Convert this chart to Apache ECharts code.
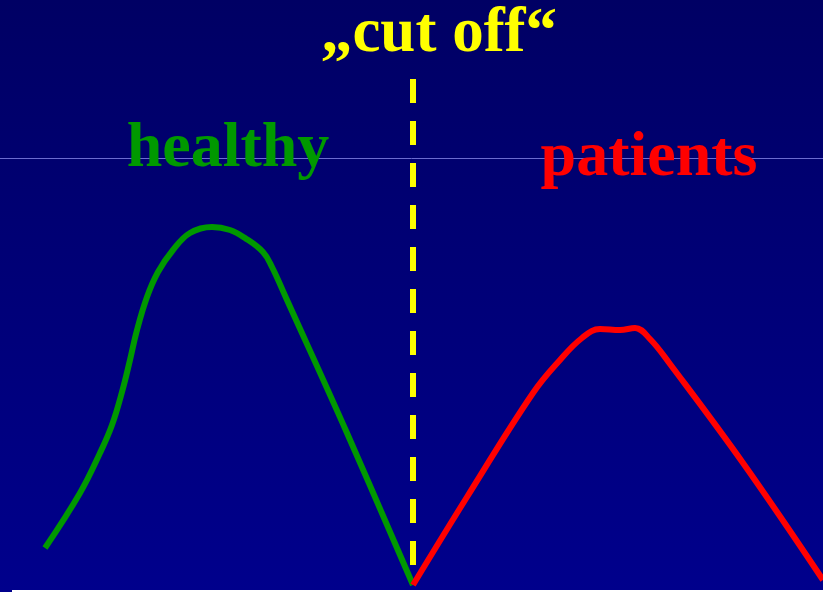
<!DOCTYPE html>
<html>
<head>
<meta charset="utf-8">
<script src="https://cdn.jsdelivr.net/npm/echarts@6/dist/echarts.min.js"></script>
<style>
html, body { margin: 0; padding: 0; }
#main { width: 823px; height: 592px; }
</style>
</head>
<body>
<div id="main"></div>
<script>
// x = test value, y = frequency
var healthy = [
	[45, 44], [80, 99], [100, 139], [112, 167], [122, 200], [130, 232], [137, 262],
	[147, 295], [158, 320], [173, 342], [190, 359], [212, 365], [230, 362], [245, 354],
	[263, 340], [272, 325], [287, 292], [347, 159], [413, 7]
];
var patients = [
	[413, 7], [467, 95], [533, 199], [560, 232], [582, 254],
	[600, 263], [620, 262], [635, 264], [650, 253], [670, 228], [743, 129],
	[823, 12]
];
var cutOff = [[413, 513], [413, 14]];
var labels = ['„cut off“', 'healthy', 'patients'];

var myChart = echarts.init(document.getElementById('main'));

option = {
	animation: false,
	backgroundColor: {
		type: 'linear', x: 0, y: 0, x2: 0, y2: 1,
		colorStops: [
			{ offset: 0, color: '#000064' },
			{ offset: 1, color: '#00008c' }
		]
	},
	grid: { left: 0, right: 0, top: 0, bottom: 0 },
	xAxis: { type: 'value', min: 0, max: 823, show: false },
	yAxis: { type: 'value', min: 0, max: 592, show: false },
	graphic: [
		{ type: 'line', shape: { x1: 0, y1: 158.5, x2: 823, y2: 158.5 }, style: { stroke: '#6b6bd0', lineWidth: 1 }, z: 0 },
		{ type: 'rect', shape: { x: 12, y: 590, width: 811, height: 2 }, style: { fill: '#ffffff' } },
		{ type: 'text', x: 439, y: 35, style: { text: labels[0], font: 'bold 63px "Liberation Serif"', fill: '#ffff00', align: 'center', verticalAlign: 'middle' } },
		{ type: 'text', x: 228, y: 149, style: { text: labels[1], font: 'bold 64px "Liberation Serif"', fill: '#009900', align: 'center', verticalAlign: 'middle' } },
		{ type: 'text', x: 649, y: 158, style: { text: labels[2], font: 'bold 64px "Liberation Serif"', fill: '#ff0000', align: 'center', verticalAlign: 'middle' } }
	],
	series: [
		{
			type: 'line', data: healthy, smooth: 0.4, symbol: 'none',
			lineStyle: { color: '#009900', width: 6 }
		},
		{
			type: 'line', data: patients, smooth: 0.4, symbol: 'none',
			lineStyle: { color: '#ff0000', width: 6 }
		},
		{
			type: 'line', data: cutOff, symbol: 'none',
			lineStyle: { color: '#ffff00', width: 6, type: [24, 18], cap: 'butt' }
		}
	]
};
myChart.setOption(option);
</script>
</body>
</html>
